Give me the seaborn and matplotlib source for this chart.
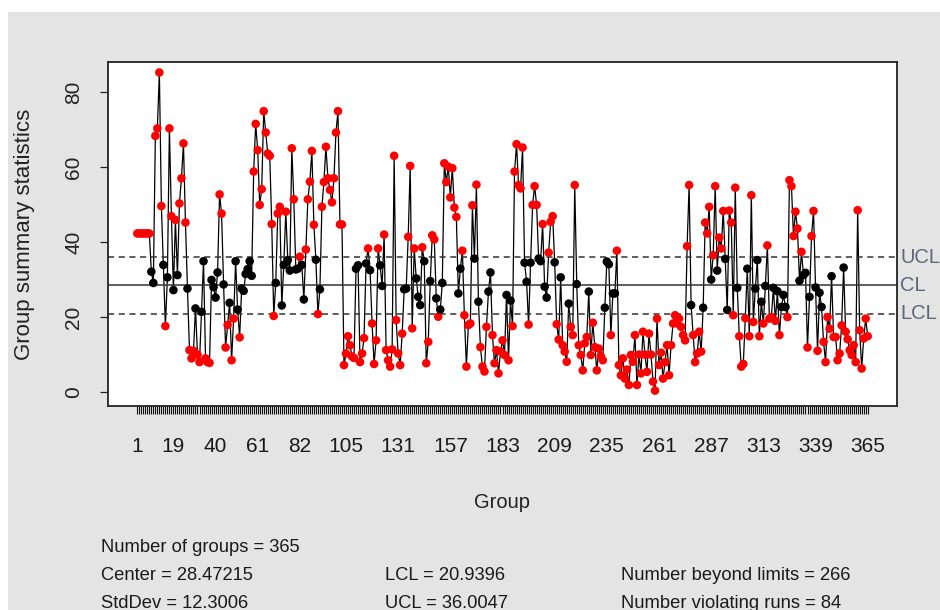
import numpy as np
import pandas as pd
import seaborn as sns
import matplotlib.pyplot as plt
from matplotlib.patches import Rectangle

# group summary statistics, groups 1..365
stats_a = [42.3, 42.3, 42.3, 42.3, 42.3, 42.3, 42.3, 32.1, 29.1, 68.3,
           70.3, 85.2, 49.6, 33.9, 17.6, 30.6, 70.3, 46.9, 27.2, 45.9,
           31.2, 50.3, 57.0, 66.3, 45.2, 27.6, 11.2, 9.0, 11.0, 22.3,
           10.0, 8.0, 21.4, 34.9, 9.0, 8.0, 7.8, 29.9, 28.0, 25.2,
           31.9, 52.7, 47.6, 28.7]
stats_b = [11.9, 17.9, 23.8, 8.5, 19.6, 34.9,
           22.0, 14.6, 27.6, 27.0, 31.5, 32.8, 34.9, 31.0, 58.8, 71.5,
           64.5, 49.9, 54.1, 74.9, 69.2, 63.6, 63.0, 44.8, 20.3, 29.1,
           47.6, 49.4, 23.1, 33.9, 48.1, 35.2, 32.4, 65.0, 51.4, 32.7,
           32.9, 36.1, 33.9, 24.7, 38.0, 51.4, 56.1, 64.3, 44.6, 35.3]
stats_c = [20.8, 27.4, 49.4, 56.0, 65.4, 57.0, 53.9, 50.6, 57.0, 69.2,
           74.9, 44.7, 44.7, 7.2, 10.3, 14.9, 12.5, 9.5, 9.1, 32.9,
           33.8, 8.0, 10.3, 14.4, 34.3, 38.3, 32.5, 18.3, 7.5, 13.8,
           38.3, 33.8, 28.3, 42.0, 11.2, 8.5, 6.8, 11.4, 63.0, 19.2,
           10.3, 7.2, 15.6, 27.4]
stats_d = [27.6, 41.4, 60.3, 17.0, 38.3, 30.3,
           25.4, 23.2, 38.6, 34.9, 7.7, 13.4, 29.6, 41.8, 40.7, 25.0,
           20.1, 22.0, 29.1, 61.0, 56.0, 60.1, 51.9, 59.7, 49.2, 46.7,
           26.3, 32.9, 37.7, 20.5, 6.8, 17.9, 18.3, 49.8, 35.6, 55.3,
           24.1, 12.0, 6.8, 5.5, 17.4, 26.8, 31.9]
stats_e = [15.2, 7.7, 11.2,
           5.0, 10.8, 13.8, 9.9, 25.9, 8.5, 24.4, 17.6, 58.8, 66.1,
           55.2, 54.3, 65.2, 34.5, 29.4, 18.0, 34.5, 49.9, 54.9, 49.9,
           35.6, 34.9, 44.8, 28.1, 25.2, 37.2, 45.4, 46.9, 34.6, 18.1,
           14.0, 30.6, 12.5, 10.8, 8.1, 23.6, 17.4, 15.2, 55.2, 28.8,
           12.5, 9.9, 5.8]
stats_f = [13.0, 14.7, 26.8, 9.9, 18.5, 12.0, 5.8,
           11.6, 9.6, 8.5, 22.5, 34.8, 34.1, 15.2, 26.3, 26.3, 37.7,
           7.2, 4.5, 9.0, 3.6, 6.0, 1.9, 9.9, 8.1, 15.2, 1.9,
           10.0, 5.0, 16.1, 10.0, 5.4, 15.6, 10.0, 2.8, 0.4, 19.6,
           7.2, 10.5, 3.6, 8.0, 12.5, 4.5, 12.5, 18.3]
stats_g = [20.5, 18.3,
           19.6, 17.4, 15.2, 13.8, 38.9, 55.2, 23.2, 15.2, 8.0, 10.3,
           16.1, 10.8, 22.5, 45.2, 42.3, 49.4, 30.0, 36.5, 54.9, 32.4,
           41.2, 38.3, 48.3, 35.5, 21.9, 48.4, 45.2, 20.5, 54.5, 27.8,
           14.9, 6.8, 7.5, 19.7, 32.9, 14.9, 52.5, 18.7, 27.6, 35.2,
           14.9, 24.1, 18.3, 28.3, 39.1]
stats_h = [19.6, 20.0, 27.8, 19.0, 26.9,
           15.2, 22.7, 25.9, 22.7, 20.0, 56.5, 54.9, 41.6, 48.1, 43.6,
           29.7, 37.4, 31.2, 31.8, 11.9, 25.4, 41.6, 48.3, 27.9, 11.0,
           26.5, 22.7, 13.4, 8.0, 20.0, 16.9, 30.9, 14.7, 14.7, 8.5,
           10.3, 17.8, 33.2, 16.1, 14.1, 11.2, 9.9, 12.5, 8.0, 48.5,
           16.5, 6.3, 14.3, 19.6, 14.9]

center = 28.47215
std_dev = 12.3006
lcl = 20.9396
ucl = 36.0047
n_beyond = 266
n_runs = 84
shown_groups = [1, 19, 40, 61, 82, 105, 131, 157, 183, 209, 235, 261, 287, 313, 339, 365]

group_stats = stats_a + stats_b + stats_c + stats_d + stats_e + stats_f + stats_g + stats_h
df = pd.DataFrame({'group': np.arange(1, len(group_stats) + 1), 'stat': group_stats})
df['beyond'] = (df['stat'] > ucl) | (df['stat'] < lcl)

sns.set_style('white')
plt.rcParams['font.family'] = ['Liberation Sans', 'DejaVu Sans']

fig = plt.figure(figsize=(9.4, 6.1), dpi=100)
fig.patch.set_facecolor('white')
fig.add_artist(Rectangle((8 / 940, 0), 1, 598 / 610, transform=fig.transFigure,
                         facecolor='#e4e4e4', edgecolor='none', zorder=-5))
ax = fig.add_axes([108 / 940, 1 - 406 / 610, 789 / 940, 344 / 610])
ax.set_facecolor('white')

sns.lineplot(data=df, x='group', y='stat', color='black', lw=0.9, estimator=None, ax=ax)
sns.scatterplot(data=df, x='group', y='stat', hue='beyond', palette={True: 'red', False: 'black'},
                s=38, edgecolor='none', legend=False, ax=ax, zorder=3)

ax.axhline(center, color='#333333', lw=1.1)
ax.axhline(ucl, color='#333333', lw=1.1, ls=(0, (4, 3)))
ax.axhline(lcl, color='#333333', lw=1.1, ls=(0, (4, 3)))
trans = ax.get_yaxis_transform()
for yv, name in [(ucl, 'UCL'), (center, 'CL'), (lcl, 'LCL')]:
    ax.text(1.004, yv, name, transform=trans, ha='left', va='center', color='#5c6778', fontsize=14.5)

ax.set_xlim(-13.6, 379.6)
ax.set_ylim(-3.7, 88)
ax.set_xticks(df['group'])
ax.set_xticklabels([str(g) if g in shown_groups else '' for g in df['group']])
ax.tick_params(axis='x', bottom=True, length=6, width=0.8, pad=16, labelsize=15,
               colors='#111111', labelcolor='#1a1a1a')
ax.set_yticks([0, 20, 40, 60, 80])
ax.tick_params(axis='y', left=True, length=6, width=0.9, pad=12, labelsize=15, colors='#222222')
for lab in ax.get_yticklabels():
    lab.set_rotation(90)
    lab.set_va('center')
ax.set_xlabel('')
ax.set_ylabel('')
for sp in ax.spines.values():
    sp.set_visible(True)
    sp.set_color('#222222')
    sp.set_linewidth(1.3)

fig.text(502 / 940, 1 - 503 / 610, 'Group', ha='center', va='center', fontsize=14.5, color='#222222')
fig.text(25 / 940, 1 - 234 / 610, 'Group summary statistics', rotation=90, ha='center', va='center',
         fontsize=16, color='#222222')

txt = dict(va='center', ha='left', fontsize=13.2, color='#1a1a1a')
fig.text(101 / 940, 1 - 547 / 610, f'Number of groups = {len(group_stats)}', **txt)
fig.text(101 / 940, 1 - 576 / 610, f'Center = {center}', **txt)
fig.text(101 / 940, 1 - 603 / 610, f'StdDev = {std_dev}', **txt)
fig.text(385 / 940, 1 - 576 / 610, f'LCL = {lcl}', **txt)
fig.text(385 / 940, 1 - 603 / 610, f'UCL = {ucl}', **txt)
fig.text(621 / 940, 1 - 576 / 610, f'Number beyond limits = {n_beyond}', **txt)
fig.text(621 / 940, 1 - 603 / 610, f'Number violating runs = {n_runs}', **txt)

fig.savefig('out.png', dpi=100)
